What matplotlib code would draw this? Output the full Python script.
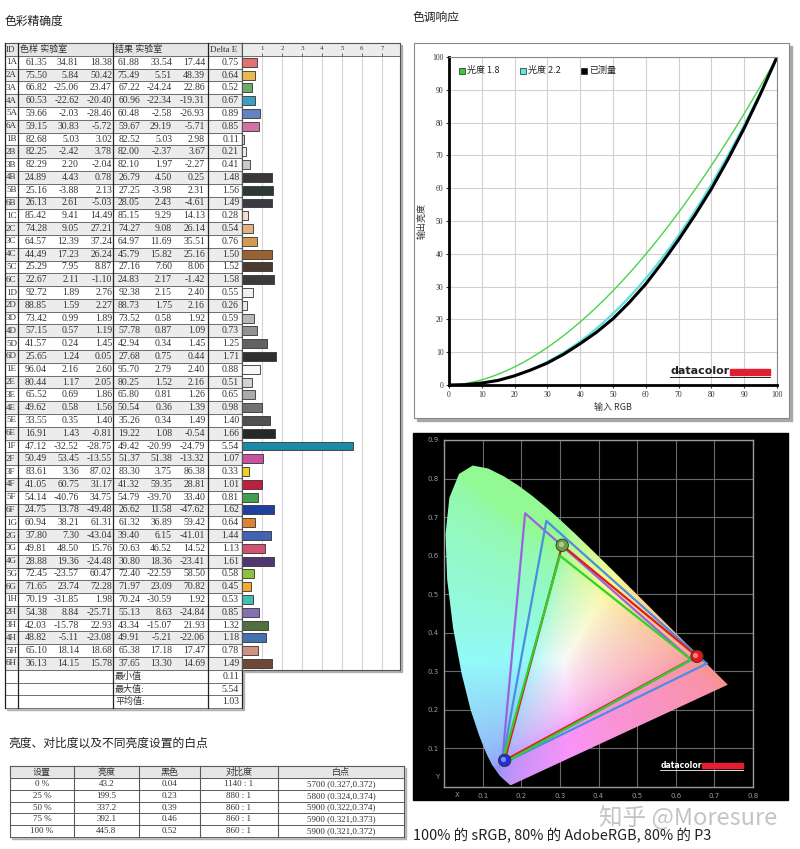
"""
Monitor calibration report: colour accuracy table, tone response
curve, gamut chart and luminance / white point table.
"""

import numpy as np
import matplotlib
matplotlib.use("Agg")
import matplotlib.pyplot as plt
from matplotlib.patches import Rectangle, Polygon


# ============================================================
# Data
# ============================================================

patch_ids = [
    "1A", "2A", "3A", "4A", "5A", "6A", "1B", "2B", "3B", "4B", "5B", "6B",
    "1C", "2C", "3C", "4C", "5C", "6C", "1D", "2D", "3D", "4D", "5D", "6D",
    "1E", "2E", "3E", "4E", "5E", "6E", "1F", "2F", "3F", "4F", "5F", "6F",
    "1G", "2G", "3G", "4G", "5G", "6G", "1H", "2H", "3H", "4H", "5H", "6H",
]
ref_L = [61.35, 75.50, 66.82, 60.53, 59.66, 59.15, 82.68, 82.25, 82.29, 24.89, 25.16, 26.13,
         85.42, 74.28, 64.57, 44.49, 25.29, 22.67, 92.72, 88.85, 73.42, 57.15, 41.57, 25.65,
         96.04, 80.44, 65.52, 49.62, 33.55, 16.91, 47.12, 50.49, 83.61, 41.05, 54.14, 24.75,
         60.94, 37.80, 49.81, 28.88, 72.45, 71.65, 70.19, 54.38, 42.03, 48.82, 65.10, 36.13]
ref_a = [34.81, 5.84, -25.06, -22.62, -2.03, 30.83, 5.03, -2.42, 2.20, 4.43, -3.88, 2.61,
         9.41, 9.05, 12.39, 17.23, 7.95, 2.11, 1.89, 1.59, 0.99, 0.57, 0.24, 1.24,
         2.16, 1.17, 0.69, 0.58, 0.35, 1.43, -32.52, 53.45, 3.36, 60.75, -40.76, 13.78,
         38.21, 7.30, 48.50, 19.36, -23.57, 23.74, -31.85, 8.84, -15.78, -5.11, 18.14, 14.15]
ref_b = [18.38, 50.42, 23.47, -20.40, -28.46, -5.72, 3.02, 3.78, -2.04, 0.78, 2.13, -5.03,
         14.49, 27.21, 37.24, 26.24, 8.87, -1.10, 2.76, 2.27, 1.89, 1.19, 1.45, 0.05,
         2.60, 2.05, 1.86, 1.56, 1.40, -0.81, -28.75, -13.55, 87.02, 31.17, 34.75, -49.48,
         61.31, -43.04, 15.76, -24.48, 60.47, 72.28, 1.98, -25.71, 22.93, -23.08, 18.68, 15.78]
meas_L = [61.88, 75.49, 67.22, 60.96, 60.48, 59.67, 82.52, 82.00, 82.10, 26.79, 27.25, 28.05,
          85.15, 74.27, 64.97, 45.79, 27.16, 24.83, 92.38, 88.73, 73.52, 57.78, 42.94, 27.68,
          95.70, 80.25, 65.80, 50.54, 35.26, 19.22, 49.42, 51.37, 83.30, 41.32, 54.79, 26.62,
          61.32, 39.40, 50.63, 30.80, 72.40, 71.97, 70.24, 55.13, 43.34, 49.91, 65.38, 37.65]
meas_a = [33.54, 5.51, -24.24, -22.34, -2.58, 29.19, 5.03, -2.37, 1.97, 4.50, -3.98, 2.43,
          9.29, 9.08, 11.69, 15.82, 7.60, 2.17, 2.15, 1.75, 0.58, 0.87, 0.34, 0.75,
          2.79, 1.52, 0.81, 0.36, 0.34, 1.08, -20.99, 51.38, 3.75, 59.35, -39.70, 11.58,
          36.89, 6.15, 46.52, 18.36, -22.59, 23.09, -30.59, 8.63, -15.07, -5.21, 17.18, 13.30]
meas_b = [17.44, 48.39, 22.86, -19.31, -26.93, -5.71, 2.98, 3.67, -2.27, 0.25, 2.31, -4.61,
          14.13, 26.14, 35.51, 25.16, 8.06, -1.42, 2.40, 2.16, 1.92, 1.09, 1.45, 0.44,
          2.40, 2.16, 1.26, 1.39, 1.49, -0.54, -24.79, -13.32, 86.38, 28.81, 33.40, -47.62,
          59.42, -41.01, 14.52, -23.41, 58.50, 70.82, 1.92, -24.84, 21.93, -22.06, 17.47, 14.69]
delta_e = [0.75, 0.64, 0.52, 0.67, 0.89, 0.85, 0.11, 0.21, 0.41, 1.48, 1.56, 1.49,
           0.28, 0.54, 0.76, 1.50, 1.52, 1.58, 0.55, 0.26, 0.59, 0.73, 1.25, 1.71,
           0.88, 0.51, 0.65, 0.98, 1.40, 1.66, 5.54, 1.07, 0.33, 1.01, 0.81, 1.62,
           0.64, 1.44, 1.13, 1.61, 0.58, 0.45, 0.53, 0.85, 1.32, 1.18, 0.78, 1.49]
patch_colors = [
    "#e07272", "#e8b852", "#6aaa6a", "#3aa0c0", "#6282c2", "#d272a2",
    "#d6d6d6", "#eeeeee", "#c8c8c8", "#3c3838", "#2e3a34", "#3a3a44",
    "#f2dcd2", "#e2b282", "#d29a52", "#9a6232", "#4a3a30", "#3a3a3a",
    "#f0f0f0", "#e8e8e8", "#b8b8b8", "#929292", "#626262", "#303030",
    "#f8f8f8", "#d2d2d2", "#aaaaaa", "#727272", "#505050", "#282828",
    "#1a8aa8", "#c852a2", "#f0d020", "#c02040", "#40a050", "#2040a0",
    "#e08232", "#4262b2", "#d25272", "#503870", "#90c040", "#f0aa30",
    "#40c0b0", "#8272b2", "#507040", "#4272b2", "#d29282", "#704838",
]
summary_labels = ["最小值", "最大值:", "平均值:"]
summary_values = [0.11, 5.54, 1.03]
bar_ticks = [1, 2, 3, 4, 5, 6, 7]

gamma_refs = [1.8, 2.2]
gamma_input = [0, 5, 10, 15, 20, 25, 30, 35, 40, 45, 50, 55, 60, 65, 70, 75, 80, 85, 90, 95, 100]
gamma_measured = [0, 0.1, 0.6, 1.4, 2.8, 4.6, 6.7, 9.4, 12.6, 16.1, 20.2, 25.2, 30.8,
                  37.3, 44.3, 51.8, 59.8, 68.7, 78.3, 88.8, 100]

locus_x = [0.1741, 0.1733, 0.1714, 0.1689, 0.1644, 0.1566, 0.1440, 0.1241, 0.1096, 0.0913,
           0.0687, 0.0454, 0.0235, 0.0082, 0.0039, 0.0139, 0.0389, 0.0743, 0.1142, 0.1547,
           0.1929, 0.2296, 0.2658, 0.3016, 0.3373, 0.3731, 0.4087, 0.4441, 0.4788, 0.5125,
           0.5448, 0.5752, 0.6029, 0.6270, 0.6658, 0.6915, 0.7079, 0.7190, 0.7260, 0.7300, 0.7347]
locus_y = [0.0050, 0.0048, 0.0051, 0.0069, 0.0109, 0.0177, 0.0297, 0.0578, 0.0868, 0.1327,
           0.2007, 0.2950, 0.4127, 0.5384, 0.6548, 0.7502, 0.8120, 0.8338, 0.8262, 0.8059,
           0.7816, 0.7543, 0.7243, 0.6923, 0.6589, 0.6245, 0.5896, 0.5547, 0.5202, 0.4866,
           0.4544, 0.4242, 0.3965, 0.3725, 0.3340, 0.3083, 0.2920, 0.2809, 0.2740, 0.2700, 0.2653]

adobe_x, adobe_y = [0.64, 0.21, 0.15], [0.33, 0.71, 0.06]
p3_x, p3_y = [0.68, 0.265, 0.15], [0.32, 0.69, 0.06]
srgb_x, srgb_y = [0.64, 0.30, 0.15], [0.33, 0.60, 0.06]
measured_x, measured_y = [0.655, 0.306, 0.157], [0.339, 0.627, 0.069]
cie_ticks = [0.1, 0.2, 0.3, 0.4, 0.5, 0.6, 0.7, 0.8]

lum_settings = ["0 %", "25 %", "50 %", "75 %", "100 %"]
lum_brightness = ["43.2", "199.5", "337.2", "392.1", "445.8"]
lum_black = ["0.04", "0.23", "0.39", "0.46", "0.52"]
lum_contrast = ["1140 : 1", "880 : 1", "860 : 1", "860 : 1", "860 : 1"]
lum_whitepoint = ["5700 (0.327,0.372)", "5800 (0.324,0.374)", "5900 (0.322,0.374)",
                  "5900 (0.321,0.373)", "5900 (0.321,0.372)"]
lum_headers = ["设置", "亮度", "黑色", "对比度", "白点"]


# ============================================================
# Layout helpers
# ============================================================

W, H = 800, 849
CJK = ["Noto Sans CJK SC", "DejaVu Sans"]
TFONT = ["Liberation Serif", "Noto Sans CJK SC"]
TXT = "#333333"
LINE = "#5a5a5a"

ROW0 = 62.3
ROW_H = 12.79


def px_axes(fig, left, top, width, height):
    return fig.add_axes([left / W, 1 - (top + height) / H, width / W, height / H])


def row_y(i):
    return ROW0 + i * ROW_H


# ============================================================
# Colour accuracy table
# ============================================================

def draw_accuracy_table(fig, cv):
    cv.text(5, 21, "色彩精确度", fontsize=8.5, family=CJK, va="center", color="#222")

    top = row_y(-1) - ROW_H / 2
    data_bot = row_y(47) + ROW_H / 2
    bot = row_y(50) + ROW_H / 2

    cv.add_patch(Rectangle((7, top + 2), 237, bot - top, color="#b0b0b0", zorder=0))
    cv.add_patch(Rectangle((244, top + 2), 158, data_bot - top, color="#b0b0b0", zorder=0))
    cv.add_patch(Rectangle((5, top), 237, bot - top, color="white", zorder=0.5))
    cv.add_patch(Rectangle((5, top), 237, ROW_H, color="#e6e6e6", zorder=0.6))
    for i in range(48):
        if i % 2 == 1:
            cv.add_patch(Rectangle((5, row_y(i) - ROW_H / 2), 237, ROW_H,
                                   color="#ececec", zorder=0.6))

    for i in range(-1, 51):
        y = row_y(i) + ROW_H / 2
        cv.plot([5, 242], [y, y], color=LINE, lw=0.6, zorder=1)
    cv.plot([5, 242], [top, top], color=LINE, lw=0.8, zorder=1)
    for x in [5, 18, 113, 208, 242]:
        cv.plot([x, x], [top, bot], color="#222", lw=0.9, zorder=1)

    hy = row_y(-1)
    cv.text(6, hy, "ID", fontsize=6.5, family=TFONT, va="center", color=TXT)
    cv.text(20, hy, "色样 实验室", fontsize=6.5, family=TFONT, va="center", color=TXT)
    cv.text(115, hy, "结果 实验室", fontsize=6.5, family=TFONT, va="center", color=TXT)
    cv.text(210, hy, "Delta E", fontsize=6.5, family=TFONT, va="center", color=TXT)

    cols = [(47, ref_L), (79, ref_a), (112, ref_b), (140, meas_L), (172, meas_a),
            (205, meas_b), (239, delta_e)]
    for i, pid in enumerate(patch_ids):
        y = row_y(i)
        cv.text(6, y, pid, fontsize=6.5, family=TFONT, va="center", color=TXT)
        for x, vals in cols:
            cv.text(x, y, f"{vals[i]:.2f}", fontsize=7, family=TFONT,
                    va="center", ha="right", color=TXT)

    for k, (lab, val) in enumerate(zip(summary_labels, summary_values)):
        y = row_y(48 + k)
        cv.text(115, y, lab, fontsize=6.5, family=TFONT, va="center", color=TXT)
        cv.text(239, y, f"{val:.2f}", fontsize=7, family=TFONT,
                va="center", ha="right", color=TXT)

    # bar column
    ax = px_axes(fig, 242, top, 158, data_bot - top)
    ax.set_xlim(0, 7.9)
    ax.set_ylim(47.5, -1.5)
    ax.add_patch(Rectangle((0, -1.5), 7.9, 1, color="#ececec", zorder=0))
    ax.vlines(bar_ticks, -0.5, 47.5, color="#d4d4d4", lw=0.8, zorder=1)
    ax.vlines(bar_ticks, -0.75, -0.5, color="#555", lw=0.6, zorder=1)
    for t in bar_ticks:
        ax.text(t, -1.1, str(t), fontsize=5, family=TFONT, ha="center", va="center", color=TXT)
    ax.axhline(-0.5, color=LINE, lw=0.6)
    ax.barh(range(len(delta_e)), delta_e, height=0.7, color=patch_colors,
            edgecolor="#333", linewidth=0.6, zorder=2)
    ax.set_xticks([])
    ax.set_yticks([])
    for s in ax.spines.values():
        s.set_color("#555")
        s.set_linewidth(0.8)


# ============================================================
# Tone response
# ============================================================

def draw_gamma(fig, cv):
    cv.text(413, 18, "色调响应", fontsize=8.5, family=CJK, va="center", color="#222")
    cv.add_patch(Rectangle((417, 46), 375, 375, color="#a8a8a8", zorder=0))
    cv.add_patch(Rectangle((414, 43), 375, 375, facecolor="white",
                           edgecolor="#888", lw=0.8, zorder=0.5))

    ax = px_axes(fig, 449, 57, 328, 328)
    ax.set_xlim(0, 100)
    ax.set_ylim(0, 100)
    ax.set_xticks(range(0, 101, 10))
    ax.set_yticks(range(0, 101, 10))
    ax.grid(color="#d0d0d0", lw=0.8)
    ax.set_axisbelow(True)
    ax.tick_params(labelsize=5.5, length=2, pad=2, colors=TXT)
    for lab in ax.get_xticklabels() + ax.get_yticklabels():
        lab.set_family(TFONT)
    for side in ["left", "bottom"]:
        ax.spines[side].set_linewidth(2)
        ax.spines[side].set_color("black")
    for side in ["top", "right"]:
        ax.spines[side].set_linewidth(0.8)
        ax.spines[side].set_color("#888")

    xs = np.linspace(0, 100, 201)
    ax.plot(xs, 100 * (xs / 100) ** gamma_refs[0], color="#4cd24c", lw=1.0)
    ax.plot(xs, 100 * (xs / 100) ** gamma_refs[1], color="#5ee0e0", lw=1.6)
    ax.plot(gamma_input, gamma_measured, color="black", lw=2.2)

    ax.set_xlabel("输入 RGB", fontsize=6.5, family=CJK, labelpad=3, color=TXT)
    ax.set_ylabel("输出亮度", fontsize=6.5, family=CJK, labelpad=4, color=TXT)

    legend = [("光度 1.8", "#3ccc3c", 4.0), ("光度 2.2", "#5ee6e6", 22.6), ("已测量", "black", 41.2)]
    for lab, col, x in legend:
        ax.scatter([x], [95.8], marker="s", s=16, color=col, edgecolor="#222", lw=0.5, zorder=5)
        ax.text(x + 1.6, 95.8, lab, fontsize=6.5, family=CJK, va="center", color="#222")

    ax.text(67.5, 4.3, "datacolor", fontsize=8, fontweight="bold", family="DejaVu Sans",
            va="center", color="#222")
    ax.add_patch(Rectangle((85.7, 3.0), 12.2, 1.9, color="#e02030", zorder=5))
    ax.plot([67.5, 98], [2.3, 2.3], color="#222", lw=0.7)


# ============================================================
# Gamut chart
# ============================================================

def chroma_image():
    gx, gy = np.meshgrid(np.linspace(0, 0.8, 320), np.linspace(0, 0.9, 360))
    gz = 1 - gx - gy
    xyz = np.stack([gx, gy, gz], axis=-1)
    m = np.array([[3.2406, -1.5372, -0.4986],
                  [-0.9689, 1.8758, 0.0415],
                  [0.0557, -0.2040, 1.0570]])
    rgb = np.clip(xyz @ m.T, 0, None)
    rgb = rgb / (rgb.max(axis=-1, keepdims=True) + 1e-9)
    rgb = rgb ** (1 / 2.2)
    return 0.58 + 0.4 * rgb


def draw_gamut(fig, cv):
    cv.add_patch(Rectangle((413, 433), 375, 367, color="black", zorder=0))

    ax = px_axes(fig, 444, 440, 309, 347)
    ax.set_facecolor("black")
    ax.set_xlim(0, 0.8)
    ax.set_ylim(0, 0.9)
    ax.set_xticks(cie_ticks)
    ax.set_yticks(cie_ticks + [0.9])
    ax.set_xticklabels([f"{t:.1f}" for t in cie_ticks])
    ax.set_yticklabels([f"{t:.1f}" for t in cie_ticks + [0.9]])
    ax.tick_params(labelsize=5, length=0, pad=4, colors="#9a9a9a")
    ax.grid(color="#6a6a6a", lw=0.8)
    ax.set_axisbelow(True)
    for s in ax.spines.values():
        s.set_color("#9a9a9a")
        s.set_linewidth(1.0)
    ax.text(0.035, -0.014, "X", fontsize=5, color="#9a9a9a", ha="center", va="top")
    ax.text(-0.012, 0.026, "Y", fontsize=5, color="#9a9a9a", ha="right", va="center")

    outline = Polygon(np.column_stack([locus_x, locus_y]), closed=True,
                      facecolor="none", edgecolor="none")
    ax.add_patch(outline)
    im = ax.imshow(chroma_image(), extent=[0, 0.8, 0, 0.9], origin="lower",
                   interpolation="bilinear", zorder=1, aspect="auto")
    im.set_clip_path(outline)

    for xs, ys, col in [(adobe_x, adobe_y, "#9a62e2"), (p3_x, p3_y, "#4a8ee0"),
                        (measured_x, measured_y, "#e01c1c"), (srgb_x, srgb_y, "#2ed22e")]:
        ax.plot(xs + xs[:1], ys + ys[:1], color=col, lw=1.6, zorder=3)

    dot_cols = ["#e01818", "#6aa040", "#2030d8"]
    ax.scatter(measured_x, measured_y, s=80, c=dot_cols, edgecolors="#303030",
               linewidths=0.6, zorder=4)
    ax.scatter([x - 0.004 for x in measured_x], [y + 0.004 for y in measured_y], s=14,
               c="white", alpha=0.45, linewidths=0, zorder=5)

    ax.text(0.56, 0.056, "datacolor", fontsize=5.6, fontweight="bold", color="white",
            va="center")
    ax.add_patch(Rectangle((0.667, 0.049), 0.106, 0.013, color="#e02030", zorder=5))
    ax.plot([0.56, 0.773], [0.043, 0.043], color="white", lw=0.6)

    cv.text(599, 817, "知乎 @Moresure", fontsize=17, family=CJK, color="#c4c4c4", va="center")
    cv.text(413, 836, "100% 的 sRGB, 80% 的 AdobeRGB, 80% 的 P3", fontsize=10.4,
            family=CJK, color="#222", va="center")


# ============================================================
# Luminance / white point table
# ============================================================

def draw_luminance_table(cv):
    cv.text(8, 743, "亮度、对比度以及不同亮度设置的白点", fontsize=8.5, family=CJK,
            va="center", color="#222")
    xs = [10, 74, 139, 200, 278, 404]
    top, hdr = 766, 12
    rh = 11.8
    bot = top + hdr + rh * len(lum_settings)
    cv.add_patch(Rectangle((12, top + 2), 394, bot - top, color="#b0b0b0", zorder=0))
    cv.add_patch(Rectangle((10, top), 394, bot - top, color="white", zorder=0.5))
    cv.add_patch(Rectangle((10, top), 394, hdr, color="#e6e6e6", zorder=0.6))
    for x in xs:
        cv.plot([x, x], [top, bot], color=LINE, lw=0.8, zorder=1)
    cv.plot([10, 404], [top, top], color=LINE, lw=0.8, zorder=1)
    for k in range(len(lum_settings) + 1):
        y = top + hdr + k * rh
        cv.plot([10, 404], [y, y], color=LINE, lw=0.7, zorder=1)

    centers = [(a + b) / 2 for a, b in zip(xs[:-1], xs[1:])]
    for c, lab in zip(centers, lum_headers):
        cv.text(c, top + hdr / 2, lab, fontsize=6.5, family=CJK, ha="center",
                va="center", color=TXT)
    cols = [lum_settings, lum_brightness, lum_black, lum_contrast, lum_whitepoint]
    for k in range(len(lum_settings)):
        y = top + hdr + (k + 0.5) * rh
        for c, vals in zip(centers, cols):
            cv.text(c, y, vals[k], fontsize=6.5, family=TFONT, ha="center",
                    va="center", color=TXT)


# ============================================================
# Main
# ============================================================

def main():
    fig = plt.figure(figsize=(W / 100, H / 100), dpi=100)
    fig.patch.set_facecolor("white")

    cv = fig.add_axes([0, 0, 1, 1])
    cv.set_xlim(0, W)
    cv.set_ylim(H, 0)
    cv.axis("off")

    draw_accuracy_table(fig, cv)
    draw_gamma(fig, cv)
    draw_gamut(fig, cv)
    draw_luminance_table(cv)

    fig.savefig("out.png", dpi=100)


if __name__ == "__main__":
    main()
